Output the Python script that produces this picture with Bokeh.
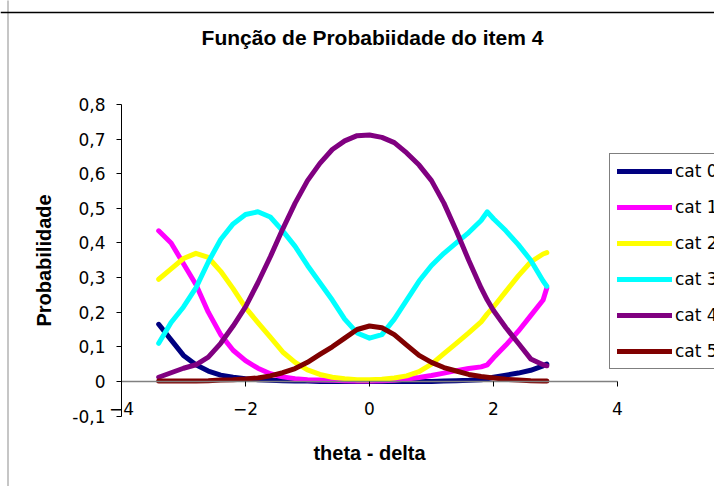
from bokeh.plotting import figure
from bokeh.models import (LinearAxis, FixedTicker, CustomJSTickFormatter, Legend,
                          LegendItem, Range1d, Label, BoxAnnotation, Span)
from bokeh.embed import file_html
from bokeh.resources import INLINE

theta = [-3.4, -3.2, -3.0, -2.8, -2.6, -2.4, -2.2, -2.0, -1.8, -1.6, -1.4, -1.2,
         -1.0, -0.8, -0.6, -0.4, -0.2, 0.0, 0.2, 0.4, 0.6, 0.8, 1.0, 1.2, 1.4,
         1.6, 1.8, 1.9, 2.0, 2.2, 2.4, 2.6, 2.8, 2.86]

cat0 = [0.165, 0.12, 0.075, 0.048, 0.03, 0.018, 0.012, 0.008, 0.005, 0.003, 0.002, 0.001,
        0.001, 0.0, 0.0, 0.0, 0.0, 0.0, 0.0, 0.0, 0.0, 0.0, 0.0, 0.001, 0.002,
        0.003, 0.005, 0.007, 0.012, 0.018, 0.024, 0.032, 0.045, 0.05]
cat1 = [0.435, 0.40, 0.34, 0.28, 0.20, 0.135, 0.09, 0.06, 0.038, 0.022, 0.013, 0.008,
        0.005, 0.004, 0.003, 0.002, 0.001, 0.001, 0.002, 0.003, 0.007, 0.011, 0.017, 0.024, 0.031,
        0.037, 0.042, 0.048, 0.068, 0.105, 0.145, 0.19, 0.235, 0.27]
cat2 = [0.295, 0.325, 0.355, 0.37, 0.358, 0.318, 0.268, 0.213, 0.17, 0.128, 0.085, 0.055,
        0.033, 0.02, 0.012, 0.008, 0.005, 0.005, 0.006, 0.01, 0.016, 0.028, 0.05, 0.08, 0.11,
        0.14, 0.172, 0.195, 0.215, 0.26, 0.305, 0.345, 0.368, 0.372]
cat3 = [0.11, 0.17, 0.215, 0.27, 0.345, 0.41, 0.455, 0.482, 0.49, 0.475, 0.435, 0.39,
        0.335, 0.285, 0.235, 0.18, 0.14, 0.125, 0.135, 0.18, 0.235, 0.29, 0.335, 0.37, 0.40,
        0.43, 0.465, 0.49, 0.47, 0.435, 0.395, 0.35, 0.29, 0.275]
cat4 = [0.012, 0.025, 0.038, 0.048, 0.07, 0.11, 0.16, 0.215, 0.285, 0.36, 0.44, 0.515,
        0.58, 0.63, 0.67, 0.695, 0.71, 0.712, 0.705, 0.69, 0.66, 0.625, 0.58, 0.515, 0.435,
        0.35, 0.27, 0.235, 0.205, 0.155, 0.11, 0.065, 0.048, 0.045]
cat5 = [0.001, 0.001, 0.001, 0.001, 0.002, 0.004, 0.005, 0.007, 0.01, 0.016, 0.025, 0.037,
        0.055, 0.078, 0.1, 0.125, 0.15, 0.16, 0.155, 0.135, 0.105, 0.075, 0.055, 0.04, 0.03,
        0.02, 0.014, 0.012, 0.01, 0.006, 0.004, 0.002, 0.001, 0.001]

series_names = ["cat 0", "cat 1", "cat 2", "cat 3", "cat 4", "cat 5"]
series_values = [cat0, cat1, cat2, cat3, cat4, cat5]
series_colors = ["#000080", "#FF00FF", "#FFFF00", "#00FFFF", "#800080", "#800000"]

x_ticks = [-4, -2, 0, 2, 4]
y_ticks = [-0.1, 0.0, 0.1, 0.2, 0.3, 0.4, 0.5, 0.6, 0.7, 0.8]
title_text = "Função de Probabiidade do item 4"
x_title = "theta - delta"
y_title = "Probabilidade"

TICK_FONT = "DejaVu Sans"
BOLD_FONT = "Liberation Sans"

# ---- layout: the frame covers the whole canvas; axes are drawn at fixed places
W, H = 714, 486
AX_LEFT_PX, AX_RIGHT_PX = 121, 617      # x = -4 .. 4
AX_TOP_PX, AX_BOTTOM_PX = 104, 415.5    # y = 0.8 .. -0.1
PX_PER_X = (AX_RIGHT_PX - AX_LEFT_PX) / 8.0
PX_PER_Y = (AX_BOTTOM_PX - AX_TOP_PX) / 0.9
X_START = -4 - AX_LEFT_PX / PX_PER_X
X_END = X_START + W / PX_PER_X
Y_END = 0.8 + AX_TOP_PX / PX_PER_Y
Y_START = Y_END - H / PX_PER_Y

p = figure(width=W, height=H, output_backend="svg", toolbar_location=None,
           x_range=Range1d(X_START, X_END), y_range=Range1d(Y_START, Y_END),
           min_border=0, min_border_left=0, min_border_right=0,
           min_border_top=0, min_border_bottom=0,
           background_fill_color="white", border_fill_color="white")
p.outline_line_color = None
p.grid.visible = False

# outer chart border: left edge as the rectangle, top edge as a span
p.add_layout(BoxAnnotation(left=7.5, right=W + 40, top=H + 40, bottom=-40,
                           left_units="screen", right_units="screen",
                           top_units="screen", bottom_units="screen",
                           fill_color=None, fill_alpha=0,
                           line_color="black", line_width=1.5))
p.add_layout(Span(location=H - 12, location_units="screen", dimension="width",
                  line_color="black", line_width=1.5))

# title
p.add_layout(Label(x=372, y=H - 37, x_units="screen", y_units="screen",
                   text=title_text, text_align="center", text_baseline="alphabetic",
                   text_font=BOLD_FONT, text_font_size="21px", text_font_style="bold",
                   text_color="black"))

# y axis at x = -4
yax = p.yaxis[0]
yax.fixed_location = -4
yax.bounds = (-0.1, 0.8)
yax.ticker = FixedTicker(ticks=y_ticks)
yax.formatter = CustomJSTickFormatter(code="""
if (Math.abs(tick) < 1e-9) { return "0"; }
return tick.toFixed(1).replace(".", ",");
""")
yax.minor_tick_line_color = None
yax.major_tick_in = 0
yax.major_tick_out = 5
yax.axis_line_color = "black"
yax.major_tick_line_color = "black"
yax.major_label_standoff = 11
yax.major_label_text_font = TICK_FONT
yax.major_label_text_font_size = "17px"
yax.major_label_text_color = "black"
yax.axis_label = y_title
yax.axis_label_text_font = BOLD_FONT
yax.axis_label_text_font_size = "20px"
yax.axis_label_text_font_style = "bold"
yax.axis_label_text_color = "black"
yax.axis_label_standoff = 14

# x tick labels along the bottom of the plot area (no line / ticks)
xax = p.xaxis[0]
xax.fixed_location = -0.1
xax.bounds = (-4, 4)
xax.ticker = FixedTicker(ticks=x_ticks)
xax.axis_line_color = None
xax.major_tick_line_color = None
xax.minor_tick_line_color = None
xax.major_tick_in = 0
xax.major_tick_out = 0
xax.major_label_standoff = -14
xax.major_label_text_font = TICK_FONT
xax.major_label_text_font_size = "17px"
xax.major_label_text_color = "black"
xax.axis_label = x_title
xax.axis_label_text_font = BOLD_FONT
xax.axis_label_text_font_size = "20px"
xax.axis_label_text_font_style = "bold"
xax.axis_label_text_color = "black"
xax.axis_label_standoff = 23

# x axis line crossing at y = 0
xzero = LinearAxis(fixed_location=0, ticker=FixedTicker(ticks=x_ticks), bounds=(-4, 4),
                   axis_line_color="#808080", axis_line_width=1.5,
                   major_tick_line_color="black", major_tick_in=0, major_tick_out=5,
                   minor_tick_line_color=None, major_label_text_color=None,
                   major_label_text_font_size="1px")
p.add_layout(xzero, "below")

renderers = []
for name, vals, col in zip(series_names, series_values, series_colors):
    r = p.line(theta, vals, line_color=col, line_width=5,
               line_join="round", line_cap="round")
    renderers.append((name, r))

legend = Legend(items=[LegendItem(label=n, renderers=[r]) for n, r in renderers],
                location=(609, H - 369), orientation="vertical",
                label_text_font=TICK_FONT, label_text_font_size="17px",
                label_text_color="black",
                glyph_width=55, glyph_height=20, label_height=20, label_standoff=3,
                spacing=16, padding=7, margin=0,
                border_line_color="black", border_line_width=1,
                background_fill_color="white", background_fill_alpha=1.0)
p.add_layout(legend, "center")

open("out.html", "w").write(file_html(p, INLINE))
